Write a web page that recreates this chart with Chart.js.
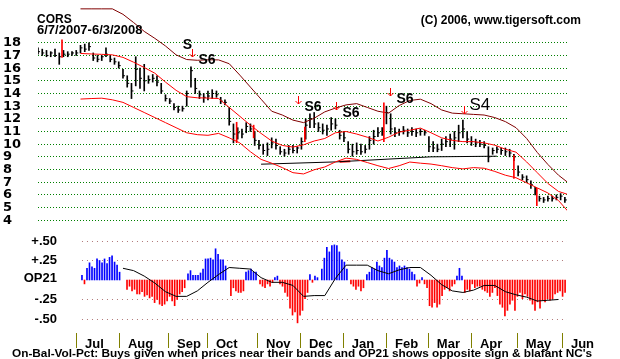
<!DOCTYPE html>
<html>
<head>
<meta charset="utf-8">
<script src="https://cdn.jsdelivr.net/npm/chart.js@4.4.1/dist/chart.umd.min.js"></script>
<style>
  html, body { margin: 0; padding: 0; background: #fff; }
  #wrap { position: relative; width: 620px; height: 359px; overflow: hidden; background: #fff; }
  canvas { position: absolute; left: 0; }
  .txt { position: absolute; white-space: nowrap; font-family: "Liberation Sans", Arial, sans-serif; font-weight: bold; line-height: 1; color: #000; }
</style>
</head>
<body>
<div id="wrap">
  <canvas id="priceChart" width="620" height="232" style="top:0"></canvas>
  <canvas id="opChart" width="620" height="127" style="top:232px"></canvas>
  <div class="txt" style="left:37px;top:13px;font-size:12px">CORS</div>
  <div class="txt" style="left:37px;top:23px;font-size:13px">6/7/2007-6/3/2008</div>
  <div class="txt" style="right:39px;top:14px;font-size:12px">(C) 2006, www.tigersoft.com</div>
  <div class="txt" style="left:12px;top:348px;font-size:11.8px">On-Bal-Vol-Pct: Buys given when prices near their bands and OP21 shows opposite sign &amp; blafant NC's</div>
</div>
<script>
// ===== Data (trading-day index 0 = 6/7/2007, last = 6/3/2008) =====
const LAST_DAY = 249;

// price bars, one every 2 trading days
const priceHigh = [17.6,17.5,17.4,17.3,17.5,17.2,17.4,17.3,17.3,17.4,17.8,17.9,18.0,17.2,17.0,17.0,17.6,17.0,16.8,16.5,
  15.9,15.4,14.8,16.9,16.0,16.3,15.4,15.5,15.4,14.8,13.9,13.6,13.2,13.0,13.0,14.2,16.1,15.2,14.2,14.0,
  14.2,14.3,14.2,13.7,13.5,12.9,11.6,11.3,11.2,11.7,11.6,11.0,10.3,10.0,10.1,10.5,10.4,9.8,9.6,9.9,
  9.9,9.8,10.5,12.0,12.4,12.5,11.7,11.6,11.5,12.1,12.0,11.1,11.0,10.2,10.0,10.1,10.0,9.9,10.6,11.1,
  11.3,11.3,13.0,12.4,11.3,11.2,11.4,11.2,11.3,11.2,11.2,11.1,10.6,10.2,10.0,10.4,10.6,10.8,11.0,11.5,
  11.9,11.0,10.6,10.4,10.3,10.2,9.8,9.7,9.8,9.7,9.7,9.6,9.2,8.3,7.6,7.5,7.1,6.6,5.9,5.8,
  5.9,5.9,6.0,6.1,5.8];
const priceLow = [17.1,17.0,16.9,16.9,16.9,16.3,16.9,16.9,17.0,17.0,17.2,17.3,17.4,16.6,16.5,16.6,16.9,16.5,16.3,16.0,
  15.2,14.5,13.6,14.6,14.4,14.2,14.8,14.9,14.6,14.0,13.4,13.2,12.7,12.5,12.6,13.0,14.5,14.0,13.6,13.3,
  13.5,13.6,13.7,13.2,13.1,11.5,10.1,10.4,10.5,10.9,11.0,9.9,9.6,9.2,9.1,9.7,9.6,9.2,9.05,9.2,
  9.3,9.3,9.6,10.4,11.3,11.3,11.0,10.8,10.7,11.1,11.2,10.4,10.2,9.3,9.05,9.2,9.2,9.3,9.6,10.0,
  10.6,10.7,11.6,10.8,10.6,10.7,10.8,10.6,10.7,10.6,10.7,10.7,9.4,9.4,9.4,9.5,9.8,9.8,9.6,10.2,
  10.5,10.1,9.9,9.8,9.8,9.7,8.6,9.2,9.3,9.2,9.1,9.0,8.7,7.5,7.2,7.0,6.5,6.0,5.5,5.4,
  5.5,5.5,5.6,5.6,5.4];
const priceClose = [17.3,17.2,17.0,17.2,17.0,16.9,17.1,17.1,17.2,17.2,17.6,17.5,17.7,16.8,16.7,16.9,17.1,16.7,16.5,16.2,
  15.4,14.8,14.2,15.9,15.2,15.0,15.1,15.2,14.9,14.2,13.6,13.4,12.9,12.7,12.8,14.0,15.8,14.4,13.9,13.7,
  13.8,14.0,13.9,13.4,13.3,11.8,10.8,10.9,10.8,11.4,11.2,10.3,9.9,9.5,9.6,10.1,9.9,9.4,9.3,9.6,
  9.5,9.7,10.2,11.5,12.0,11.6,11.3,11.1,11.2,11.6,11.5,10.7,10.5,9.6,9.4,9.5,9.4,9.6,10.3,10.6,
  10.9,11.0,12.5,11.2,10.9,11.0,11.1,10.9,11.0,10.9,11.0,10.9,9.8,9.7,9.6,10.0,10.2,10.4,10.5,10.9,
  11.2,10.4,10.2,10.1,10.0,9.9,9.0,9.5,9.6,9.5,9.4,9.3,9.0,7.8,7.4,7.2,6.8,6.3,5.7,5.6,
  5.7,5.7,5.8,5.9,5.6];
const BAR_STEP = 2;

// red signal bars [day, low, high]
const redDays = [11.3, 93.5, 101.5, 125.6, 162.8, 224, 234.8];
const redLow  = [16.85, 10.12, 10.5, 10.2, 10.2, 7.29, 5.15];
const redHigh = [18.23, 11.73, 11.5, 11.34, 13.26, 9.1, 6.52];

// bands, every 5 trading days from day 20
const BAND_START = 20, BAND_STEP = 5;
const upperBand = [20.68,20.68,20.68,20.68,20.25,19.6,18.9,18.35,17.75,17.05,16.68,16.62,16.66,16.65,16.35,15.45,14.5,13.55,12.6,12.3,
  11.9,11.7,12.05,12.55,12.85,13.1,13.2,12.9,12.6,12.45,13.05,13.45,13.55,13.2,12.7,12.45,12.4,12.35,12.3,12.1,
  11.78,11.3,10.45,9.35,8.4,7.55,6.9];
const midBand = [17.16,17.12,17.09,17.05,16.85,16.47,16.05,15.6,14.9,14.25,13.75,13.66,13.64,13.6,12.9,12.2,11.5,10.85,10.25,9.9,
  9.77,9.95,10.25,10.45,10.9,11.0,10.8,10.55,10.25,10.55,10.95,11.1,11.27,10.9,10.5,10.3,10.2,10.2,10.1,9.92,
  9.6,9.37,8.6,7.75,6.9,6.27,6.0];
const lowerBand = [13.56,13.6,13.63,13.5,13.3,12.9,12.5,12.1,11.7,11.3,10.9,10.75,10.7,10.85,10.5,10.1,9.4,8.8,8.5,8.15,
  7.75,7.65,7.98,8.2,8.6,8.9,8.8,8.55,8.3,8.08,8.3,8.59,8.5,8.43,8.3,8.15,8.05,8.15,8.1,7.85,
  7.55,7.35,6.95,6.55,6.15,5.55,4.6];

// support line
const trendDays = [105, 140, 185, 216];
const trendVals = [8.42, 8.6, 9.0, 9.05];
const trendRedDays = [142, 147];
const trendRedVals = [8.62, 8.65];

// signals
const sigDay   = [70.1, 72.5, 122.4, 140.2, 165.6, 200.5];
const sigPrice = [17.85, 16.85, 13.18, 12.72, 13.79, 12.41];
const sigText  = ['S', 'S6', 'S6', 'S6', 'S6', 'S4'];

// OP21 histogram runs
const HIST_STEP = 1.18;
const histStart = [20.7, 41.9, 70.6, 90.8, 97.9, 104.5, 111.5, 113.9, 128.0, 133.6, 147.3, 154.8, 178.4, 197.2, 200.9];
const histRuns = [
  [0.06,-0.05,0.15,0.22,0.17,0.15,0.27,0.25,0.22,0.27,0.21,0.29,0.31,0.23,0.19,0.10],
  [-0.12,-0.08,-0.14,-0.12,-0.18,-0.18,-0.15,-0.21,-0.19,-0.23,-0.21,-0.29,-0.25,-0.31,-0.33,-0.31,-0.27,-0.21,-0.27,-0.33,-0.25,-0.18,-0.15,-0.10],
  [0.08,0.12,0.06,0.06,0.06,0.09,0.14,0.27,0.27,0.28,0.26,0.40,0.33,0.26,0.26,0.18],
  [-0.20,-0.10,-0.14,-0.16,-0.16,-0.14],
  [0.10,0.12,0.14,0.10,0.10],
  [-0.05,-0.08,-0.10,-0.05,-0.08,-0.03],
  [0.03,0.05],
  [-0.05,-0.08,-0.16,-0.21,-0.36,-0.45,-0.41,-0.55,-0.45,-0.39,-0.24,-0.16],
  [0.07,-0.03,0.05,0.03],
  [0.14,0.28,0.42,0.36,0.44,0.45,0.44,0.36,0.26,0.23,0.14],
  [-0.05,-0.08,-0.12,-0.08,-0.14,-0.10],
  [0.07,0.10,0.16,0.14,0.23,0.18,0.16,0.28,0.38,0.28,0.26,0.23,0.16,0.18,0.16,0.18,0.16,0.14,0.10,0.07],
  [-0.08,-0.04,0.03,-0.05,-0.10,-0.33,-0.35,-0.29,-0.35,-0.31,-0.20,-0.12,-0.10,-0.14,-0.08,-0.05],
  [0.05,0.15,0.05],
  [-0.16,-0.12,-0.14,-0.05,-0.10,-0.08,-0.08,-0.12,-0.14,-0.16,-0.21,-0.16,-0.10,-0.20,-0.31,-0.35,-0.46,-0.39,-0.31,-0.26,
   -0.39,-0.21,-0.16,-0.24,-0.18,-0.21,-0.26,-0.31,-0.39,-0.28,-0.36,-0.26,-0.28,-0.24,-0.26,-0.24,-0.18,-0.16,-0.14,-0.21,-0.16]
];

// OP21 average line, every 5 days from day 40
const OP_START = 40, OP_STEP = 5;
const opLine = [0.15,0.12,0.05,-0.04,-0.15,-0.21,-0.21,-0.14,-0.03,0.07,0.16,0.15,0.14,0.03,-0.03,-0.03,-0.07,-0.21,-0.20,-0.20,
  0.02,0.19,0.19,0.19,0.12,0.08,0.13,0.16,0.16,0.06,-0.06,-0.14,-0.16,-0.13,-0.07,-0.07,-0.15,-0.19,-0.22,-0.27,-0.26,-0.25];

const priceTicks = [4,5,6,7,8,9,10,11,12,13,14,15,16,17,18];
const opTicks = [0.5, 0.25, 0, -0.25, -0.5];
const opTickLabels = ['+.50', '+.25', 'OP21', '-.25', '-.50'];
const opGrid = [0.5, 0.25, -0.25, -0.5];

const monthDays = [17.9, 38.1, 61.2, 79.5, 103.1, 123.3, 143.5, 163.8, 183.5, 203.8, 225.4, 246.6];
const monthNames = ['Jul','Aug','Sep','Oct','Nov','Dec','Jan','Feb','Mar','Apr','May','Jun'];

// ===== Helpers =====
const series = (start, step, vals) => vals.map((v, i) => ({ x: start + i * step, y: v }));
const pairs = (xs, ys) => xs.map((x, i) => ({ x, y: ys[i] }));

const lineSet = (data, color, width) => ({
  type: 'line', data, borderColor: color, borderWidth: width || 1,
  pointRadius: 0, tension: 0, fill: false, order: 2,
});

const labelStyle = {
  S:  { font: 'bold 14px "Liberation Sans"', dx: 0, dy: 0, align: 'center', arrow: false },
  S6: { font: 'bold 14px "Liberation Sans"', dx: 6, dy: 3, align: 'left', arrow: true },
  S4: { font: '17px "Liberation Sans"', dx: 5, dy: -9, align: 'left', arrow: true },
};

const signalMarks = {
  id: 'signalMarks',
  afterDatasetsDraw(chart) {
    const { ctx, scales: { x, y } } = chart;
    ctx.save();
    sigDay.forEach((d, i) => {
      const st = labelStyle[sigText[i]];
      const px = Math.round(x.getPixelForValue(d)) + 0.5;
      const py = Math.round(y.getPixelForValue(sigPrice[i]));
      if (st.arrow) {
        ctx.strokeStyle = '#ff0000';
        ctx.lineWidth = 1;
        ctx.beginPath();
        ctx.moveTo(px, py - 8); ctx.lineTo(px, py);
        ctx.moveTo(px - 3, py - 3); ctx.lineTo(px, py); ctx.lineTo(px + 3, py - 3);
        ctx.stroke();
      }
      ctx.fillStyle = '#000';
      ctx.font = st.font;
      ctx.textAlign = st.align;
      ctx.textBaseline = 'middle';
      ctx.fillText(sigText[i], px + st.dx, py + st.dy);
    });
    ctx.restore();
  }
};

// dotted guides, OP21 labels and month tick marks for the lower panel
const opGuides = {
  id: 'opGuides',
  beforeDatasetsDraw(chart) {
    const { ctx, chartArea, scales: { x, y } } = chart;
    const x0 = x.getPixelForValue(histStart[0]);
    ctx.save();
    ctx.strokeStyle = '#b07878';
    ctx.lineWidth = 1;
    ctx.setLineDash([1, 4]);
    for (const v of opGrid) {
      const py = Math.round(y.getPixelForValue(v)) + 0.5;
      ctx.beginPath();
      ctx.moveTo(x0, py);
      ctx.lineTo(chartArea.right, py);
      ctx.stroke();
    }
    ctx.setLineDash([]);
    ctx.fillStyle = '#000';
    ctx.font = 'bold 13px "Liberation Sans"';
    ctx.textAlign = 'right';
    ctx.textBaseline = 'middle';
    opTicks.forEach((v, i) => {
      const py = y.getPixelForValue(v) + (v === 0 ? -2 : 0);
      ctx.fillText(opTickLabels[i], chartArea.left + 19, py);
    });
    ctx.strokeStyle = '#808000';
    for (const d of monthDays) {
      const px = Math.round(x.getPixelForValue(d)) + 0.5;
      ctx.beginPath();
      ctx.moveTo(px, chartArea.bottom + 1);
      ctx.lineTo(px, chartArea.bottom + 16);
      ctx.stroke();
    }
    ctx.restore();
  }
};

// ===== Price chart =====
const barDays = priceHigh.map((_, i) => i * BAR_STEP);

new Chart(document.getElementById('priceChart'), {
  type: 'bar',
  data: {
    datasets: [
      {
        data: barDays.map((d, i) => ({ x: d, y: [priceLow[i], priceHigh[i]] })),
        backgroundColor: '#000', barThickness: 1, maxBarThickness: 1, grouped: false, order: 3,
      },
      {
        type: 'line', data: pairs(barDays, priceClose), showLine: false,
        pointStyle: 'dash', pointRadius: 2, pointBorderColor: '#000', pointBorderWidth: 1, order: 3,
      },
      {
        data: redDays.map((d, i) => ({ x: d, y: [redLow[i], redHigh[i]] })),
        backgroundColor: '#ff0000', barThickness: 1, maxBarThickness: 1, grouped: false, order: 1,
      },
      lineSet(series(BAND_START, BAND_STEP, upperBand), '#800000'),
      lineSet(series(BAND_START, BAND_STEP, midBand), '#ff0000'),
      lineSet(series(BAND_START, BAND_STEP, lowerBand), '#ff0000'),
      lineSet(pairs(trendDays, trendVals), '#000'),
      lineSet(pairs(trendRedDays, trendRedVals), '#ff0000', 2),
    ],
  },
  options: {
    responsive: false,
    animation: false,
    devicePixelRatio: 1,
    layout: { padding: { left: 3, right: 53, top: 1, bottom: 2 } },
    plugins: { legend: { display: false }, tooltip: { enabled: false } },
    scales: {
      x: { type: 'linear', min: 0, max: LAST_DAY, display: false, offset: false },
      y: {
        min: 3.463, max: 20.984,
        afterBuildTicks: (s) => { s.ticks = priceTicks.map(v => ({ value: v })); },
        afterFit: (s) => { s.width = 35; s.paddingTop = 0; s.paddingBottom = 0; },
        ticks: {
          autoSkip: false, crossAlign: 'far', color: '#000', padding: 0,
          font: { family: 'DejaVu Sans', size: 13, weight: 'bold' },
        },
        grid: { color: '#008000', drawTicks: false },
        border: { display: false, dash: [1, 2] },
      },
    },
  },
  plugins: [signalMarks],
});

// ===== OP21 chart =====
const histData = histRuns.flatMap((run, r) => series(histStart[r], HIST_STEP, run));

new Chart(document.getElementById('opChart'), {
  type: 'bar',
  data: {
    datasets: [
      {
        data: histData,
        backgroundColor: (c) => (c.raw && c.raw.y >= 0 ? '#0000ff' : '#ff0000'),
        barThickness: 1, maxBarThickness: 1, grouped: false, order: 2,
      },
      { ...lineSet(series(OP_START, OP_STEP, opLine), '#000'), order: 1 },
    ],
  },
  options: {
    responsive: false,
    animation: false,
    devicePixelRatio: 1,
    layout: { padding: { left: 38, right: 53, top: 4, bottom: 0 } },
    plugins: { legend: { display: false }, tooltip: { enabled: false } },
    scales: {
      x: {
        type: 'linear', min: 0, max: LAST_DAY, offset: false,
        afterBuildTicks: (s) => { s.ticks = monthDays.map(v => ({ value: v })); },
        afterFit: (s) => { s.height = 27; s.paddingLeft = 0; s.paddingRight = 0; },
        ticks: {
          callback: (v, i) => monthNames[i],
          autoSkip: false, maxRotation: 0, minRotation: 0,
          align: 'start', labelOffset: 9, padding: -10, color: '#000',
          font: { family: 'Liberation Sans', size: 13, weight: 'bold' },
        },
        grid: { display: false, drawTicks: true, tickLength: 15 },
        border: { display: false },
      },
      y: { min: -0.667, max: 0.564, display: false },
    },
  },
  plugins: [opGuides],
});
</script>
</body>
</html>
